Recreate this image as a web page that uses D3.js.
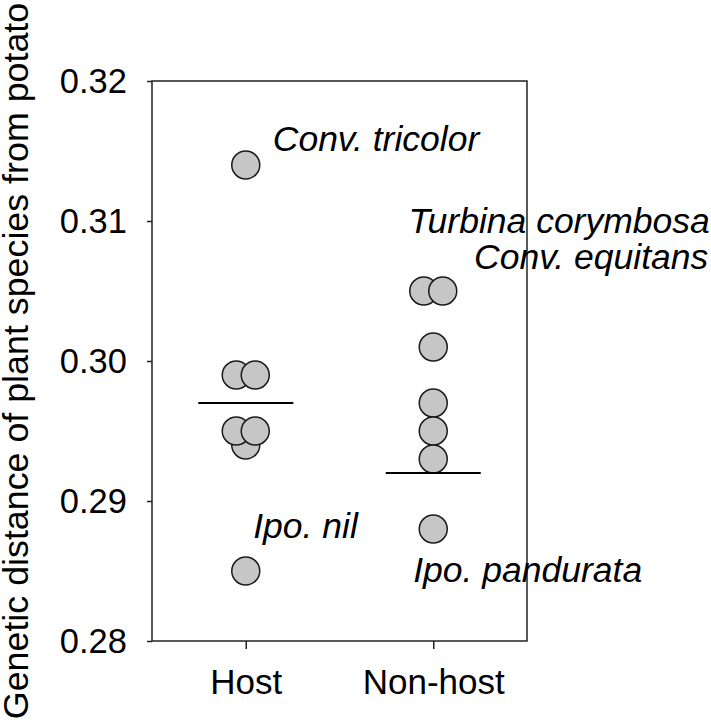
<!DOCTYPE html>
<html>
<head>
<meta charset="utf-8">
<script src="https://cdn.jsdelivr.net/npm/d3@7/dist/d3.min.js"></script>
<style>
  html, body { margin: 0; padding: 0; background: #fff; }
  svg { display: block; }
  text { font-family: "Liberation Sans", Arial, sans-serif; fill: #000; }
</style>
</head>
<body>
<div id="chart"></div>
<script>
// ---- data ----
const categories = ["Host", "Non-host"];
const hostValues = [0.314, 0.299, 0.299, 0.294, 0.295, 0.295, 0.285];
const nonHostValues = [0.305, 0.305, 0.301, 0.297, 0.295, 0.293, 0.288];
const meanValues = [0.297, 0.292];
const yTicks = [0.28, 0.29, 0.30, 0.31, 0.32];
const yDomain = [0.28, 0.32];
const yLabel = "Genetic distance of plant species from potato";
const annotationTexts = ["Conv. tricolor", "Turbina corymbosa", "Conv. equitans", "Ipo. nil", "Ipo. pandurata"];
const annotationGroups = ["Host", "Non-host", "Non-host", "Host", "Non-host"];
const annotationValues = [0.314, 0.305, 0.305, 0.285, 0.288];

// ---- layout ----
const W = 711, H = 723;
const pL = 152, pR = 527, pT = 81, pB = 641;

const svg = d3.select("#chart").append("svg").attr("width", W).attr("height", H);

const x = d3.scalePoint().domain(categories).range([pL, pR]).padding(0.5);
const y = d3.scaleLinear().domain(yDomain).range([pB, pT]);

// frame
svg.append("rect")
  .attr("x", pL).attr("y", pT)
  .attr("width", pR - pL).attr("height", pB - pT)
  .attr("fill", "none").attr("stroke", "#222").attr("stroke-width", 1.5);

// y axis
const yAxis = svg.append("g").attr("transform", `translate(${pL},0)`)
  .call(d3.axisLeft(y).tickValues(yTicks).tickFormat(d3.format(".2f")).tickSize(5).tickPadding(20));
yAxis.select(".domain").remove();
yAxis.selectAll(".tick line").attr("stroke", "#222").attr("stroke-width", 1.5);
yAxis.selectAll(".tick text").attr("font-size", 34.5).attr("font-family", "Liberation Sans, Arial, sans-serif").attr("fill", "#000");

// x axis
const xAxis = svg.append("g").attr("transform", `translate(0,${pB})`)
  .call(d3.axisBottom(x).tickSize(8).tickPadding(20));
xAxis.select(".domain").remove();
xAxis.selectAll(".tick line").attr("stroke", "#222").attr("stroke-width", 1.5);
xAxis.selectAll(".tick text").attr("font-size", 35).attr("font-family", "Liberation Sans, Arial, sans-serif").attr("fill", "#000");

// y label
svg.append("text")
  .attr("transform", `translate(28,${(pT + pB) / 2}) rotate(-90)`)
  .attr("text-anchor", "middle")
  .attr("font-size", 35.8)
  .text(yLabel);

// points with side-by-side offsets for identical values
const r = 14;
const spread = 19;
function buildPoints(cat, values) {
  const counts = d3.rollup(values, v => v.length, d => d);
  const seen = new Map();
  return values.map(v => {
    const n = counts.get(v);
    const i = seen.get(v) || 0;
    seen.set(v, i + 1);
    return { cat, v, off: (i - (n - 1) / 2) * spread };
  });
}
const points = buildPoints("Host", hostValues).concat(buildPoints("Non-host", nonHostValues));

svg.append("g").selectAll("circle").data(points).join("circle")
  .attr("cx", d => x(d.cat) + d.off)
  .attr("cy", d => y(d.v))
  .attr("r", r)
  .attr("fill", "#c6c6c6")
  .attr("stroke", "#1a1a1a")
  .attr("stroke-width", 1.5);

// mean lines
const halfLen = 47.5;
svg.append("g").selectAll("line").data(categories.map((c, i) => ({ c, m: meanValues[i] }))).join("line")
  .attr("x1", d => x(d.c) - halfLen)
  .attr("x2", d => x(d.c) + halfLen)
  .attr("y1", d => y(d.m))
  .attr("y2", d => y(d.m))
  .attr("stroke", "#000")
  .attr("stroke-width", 2);

// annotations
const annot = annotationTexts.map((t, i) => ({ t, g: annotationGroups[i], v: annotationValues[i], i }));
// placement rules (in pixels relative to the point)
const place = [
  { dx: 27, dy: -13.6, anchor: "start" },
  { dx: 276.5, dy: -57.7, anchor: "end" },
  { dx: 275, dy: -21.7, anchor: "end" },
  { dx: 7.5, dy: -33, anchor: "start" },
  { dx: -20, dy: 52.7, anchor: "start" }
];
svg.append("g").selectAll("text").data(annot).join("text")
  .attr("x", d => x(d.g) + place[d.i].dx)
  .attr("y", d => y(d.v) + place[d.i].dy)
  .attr("text-anchor", d => place[d.i].anchor)
  .attr("font-style", "italic")
  .attr("font-size", 35.5)
  .text(d => d.t);
</script>
</body>
</html>
